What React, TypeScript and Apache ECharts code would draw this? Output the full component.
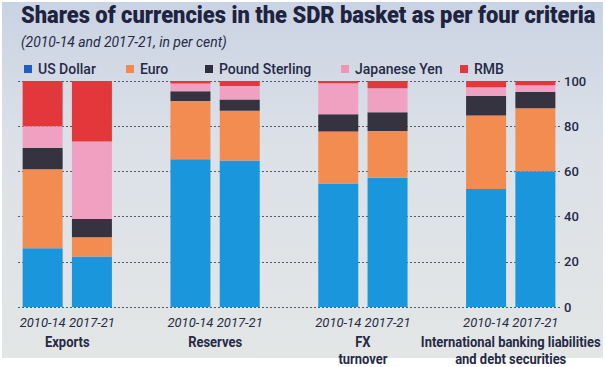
import React, { useEffect, useRef } from "react";
import * as echarts from "echarts";

const titleText = "Shares of currencies in the SDR basket as per four criteria";
const subtitleText = "(2010-14 and 2017-21, in per cent)";

const periods = ["2010-14", "2017-21", "", "2010-14", "2017-21", "", "2010-14", "2017-21", "", "2010-14", "2017-21"];
const groupNames = ["Exports", "Reserves", "FX\nturnover", "International banking liabilities\nand debt securities"];
// index pairs of the period categories belonging to each group
const groupMembers = [[0, 1], [3, 4], [6, 7], [9, 10]];

const currencies = ["US Dollar", "Euro", "Pound Sterling", "Japanese Yen", "RMB"];
const usDollar = [26, 22.3, null, 65.4, 64.8, null, 54.7, 57.2, null, 52.2, 60.1];
const euro = [35, 8.6, null, 25.8, 22, null, 22.9, 20.7, null, 32.5, 27.8];
const poundSterling = [9.4, 8, null, 4.3, 5, null, 7.7, 8.3, null, 8.7, 7.2];
const japaneseYen = [9.6, 34.3, null, 3.4, 6, null, 13.7, 10.6, null, 3.8, 3];
const rmb = [20, 26.8, null, 1.1, 2.2, null, 1, 3.2, null, 2.8, 1.9];
const yTicks = [0, 20, 40, 60, 80, 100];

const barColors = ["#1a97dc", "#f28c50", "#34333f", "#f0a0c0", "#e2383c"];
const legendColors = ["#1f5fc4", "#f28a4e", "#2f2f3d", "#ee94b6", "#e0383c"];
const legendLefts = [24, 126, 205, 341, 460];

const textColor = "#252a45";
const fontFam = "Roboto, sans-serif";

function measure(text: string, font: string): number {
  const c = document.createElement("canvas").getContext("2d");
  if (!c) return 1;
  c.font = font;
  return c.measureText(text).width;
}

export default function App() {
  const ref = useRef<HTMLDivElement>(null);
  useEffect(() => {
    if (!ref.current) return;
    const chart = echarts.init(ref.current, undefined, { renderer: "svg" });
    const titleFont = "900 23px Roboto";
    const subFont = "italic 14px Roboto";
    const groupFont = "bold 15px Roboto";
    const titleScale = 575 / measure(titleText, titleFont);
    const subScale = 206 / measure(subtitleText, subFont);
    const groupScale = 180 / measure("International banking liabilities", groupFont);
    const seriesData = [usDollar, euro, poundSterling, japaneseYen, rmb];

    const baseGraphics: any[] = [
      {
        type: "rect",
        z: -100,
        silent: true,
        shape: { x: 2, y: 2, width: 601, height: 356 },
        style: {
          fill: new echarts.graphic.LinearGradient(0, 0, 0, 1, [
            { offset: 0, color: "#cad3e3" },
            { offset: 0.4, color: "#dce1e8" },
            { offset: 1, color: "#e3e6e5" },
          ]),
        },
      },
      {
        type: "text",
        x: 21,
        y: 3,
        scaleX: titleScale,
        style: { text: titleText, font: titleFont, fill: "#1e2340", textVerticalAlign: "top" },
      },
      {
        type: "text",
        x: 21,
        y: 35,
        scaleX: subScale,
        style: { text: subtitleText, font: subFont, fill: textColor, textVerticalAlign: "top" },
      },
    ];

    const option: any = {
      animation: false,
      backgroundColor: "#ffffff",
      graphic: baseGraphics,
      legend: currencies.map((name, i) => ({
        data: [{ name, itemStyle: { color: legendColors[i] } }],
        left: legendLefts[i],
        top: 62,
        padding: 0,
        itemWidth: 8,
        itemHeight: 8,
        itemGap: 0,
        icon: "rect",
        textStyle: { color: textColor, fontSize: 14, fontFamily: fontFam, fontWeight: 500, padding: [0, 0, 0, 1] },
      })),
      grid: { left: 18, right: 46, top: 81, bottom: 60, outerBoundsMode: "none", containLabel: false },
      xAxis: {
        type: "category",
        data: periods,
        axisLine: { show: false },
        axisTick: { show: false },
        axisLabel: {
          interval: 0,
          margin: 9,
          color: textColor,
          fontSize: 13,
          fontStyle: "italic",
          fontFamily: fontFam,
        },
      },
      yAxis: {
        type: "value",
        position: "right",
        min: yTicks[0],
        max: yTicks[yTicks.length - 1],
        interval: 20,
        axisLine: { show: false },
        axisTick: { show: false },
        axisLabel: {
          margin: 4,
          color: textColor,
          fontSize: 13,
          fontFamily: fontFam,
          fontWeight: 500,
        },
        splitLine: { lineStyle: { type: [2, 2], color: "#555a66", width: 1 } },
      },
      series: currencies.map((name, i) => ({
        name,
        type: "bar",
        stack: "total",
        barWidth: 40,
        itemStyle: { color: barColors[i] },
        data: seriesData[i],
      })),
    };
    chart.setOption(option);

    // group labels centred under each pair of bars, positioned from the category axis
    const groupTexts = groupNames.map((name, g) => {
      const [a, b] = groupMembers[g];
      const xa = chart.convertToPixel({ xAxisIndex: 0 }, a) as number;
      const xb = chart.convertToPixel({ xAxisIndex: 0 }, b) as number;
      return {
        type: "text",
        x: (xa + xb) / 2,
        y: 333,
        scaleX: groupScale,
        style: {
          text: name,
          font: groupFont,
          fill: textColor,
          align: "center",
          verticalAlign: "top",
          lineHeight: 17,
        },
      };
    });
    chart.setOption({ graphic: [...baseGraphics, ...groupTexts] });
    return () => chart.dispose();
  }, []);
  return <div ref={ref} style={{ position: "fixed", left: 0, top: 0, width: 606, height: 367 }} />;
}
